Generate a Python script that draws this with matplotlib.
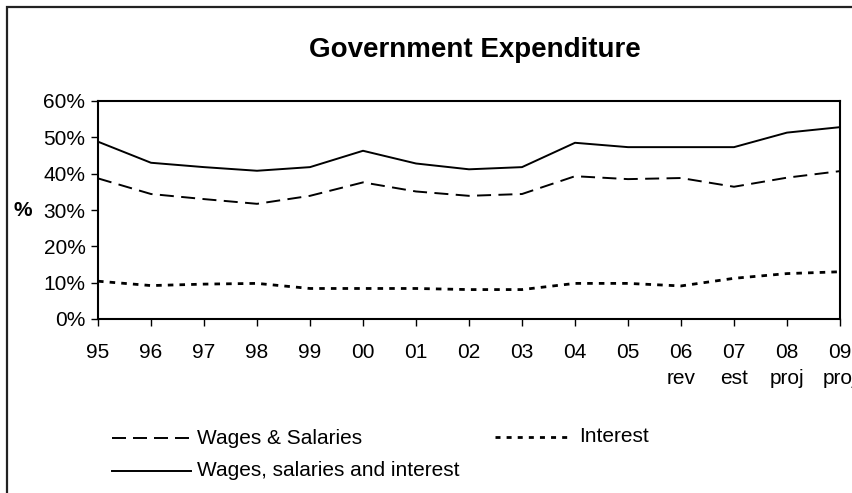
import numpy as np
import matplotlib.pyplot as plt
from matplotlib.patches import Rectangle
from matplotlib.lines import Line2D

plt.rcParams['font.family'] = ['Liberation Sans', 'DejaVu Sans']

years = ['95', '96', '97', '98', '99', '00', '01', '02', '03', '04',
         '05', '06', '07', '08', '09']
notes = ['', '', '', '', '', '', '', '', '', '', '', 'rev', 'est', 'proj', 'proj']

# shares of total expenditure, %
wages = [38.7, 34.4, 33.0, 31.7, 33.9, 37.6, 35.1, 33.9, 34.4, 39.3,
         38.5, 38.8, 36.4, 38.9, 40.7]
interest = [10.4, 9.2, 9.6, 9.8, 8.4, 8.4, 8.4, 8.1, 8.1, 9.8,
            9.8, 9.1, 11.2, 12.5, 13.0]
total = [48.8, 43.0, 41.8, 40.8, 41.8, 46.3, 42.8, 41.2, 41.8, 48.5,
         47.3, 47.3, 47.3, 51.3, 52.8]

DASH = (7.2, 3.8)
DOT = (2.0, 2.2)

fig = plt.figure(figsize=(8.53, 4.93), dpi=100)
ax = fig.add_axes([98/853, 1 - 319/493, 742/853, 218/493])

x = np.arange(len(years))
ax.plot(x, wages, color='black', lw=1.4, dashes=DASH)
ax.plot(x, interest, color='black', lw=2.0, dashes=DOT)
ax.plot(x, total, color='black', lw=1.4)

ax.set_xlim(0, len(years) - 1)
ax.set_ylim(0, 60)
ax.set_yticks(range(0, 61, 10))
ax.set_yticklabels([f'{v}%' for v in range(0, 61, 10)])
ax.set_xticks(x)
ax.set_xticklabels([f'{y}\n{n}' if n else y for y, n in zip(years, notes)],
                   linespacing=1.5, va='top')
ax.tick_params(axis='both', direction='out', length=5, width=1.0,
               labelsize=15, colors='black')
ax.tick_params(axis='x', pad=12)
ax.tick_params(axis='y', pad=4)
for s in ax.spines.values():
    s.set_linewidth(1.5)

fig.text(23/853, 1 - 210/493, '%', ha='center', va='center',
         fontsize=15, fontweight='bold')

fig.text(475/853, 1 - 50/493, 'Government Expenditure', ha='center',
         va='center', fontsize=20, fontweight='bold')

# outer frame of the chart
fig.add_artist(Rectangle((7/853, -0.1), 1.2, 1 - 7/493 + 0.1,
                         transform=fig.transFigure, fill=False,
                         edgecolor='#222222', lw=1.6))

# legend drawn by hand in figure pixels
def key(x0, x1, y, lw, dashes, label, tx):
    ln = Line2D([x0/853, x1/853], [1 - y/493, 1 - y/493], color='black',
                lw=lw, transform=fig.transFigure)
    if dashes:
        ln.set_dashes(dashes)
    fig.add_artist(ln)
    fig.text(tx/853, 1 - y/493, label, va='center', ha='left', fontsize=15)

key(112, 191, 438, 1.4, (7.2, 3.6), 'Wages & Salaries', 197)
key(495, 572, 437, 2.0, (1.8, 2.2), 'Interest', 579)
key(112, 191, 471, 1.4, None, 'Wages, salaries and interest', 197)

fig.savefig('out.png', dpi=100)
